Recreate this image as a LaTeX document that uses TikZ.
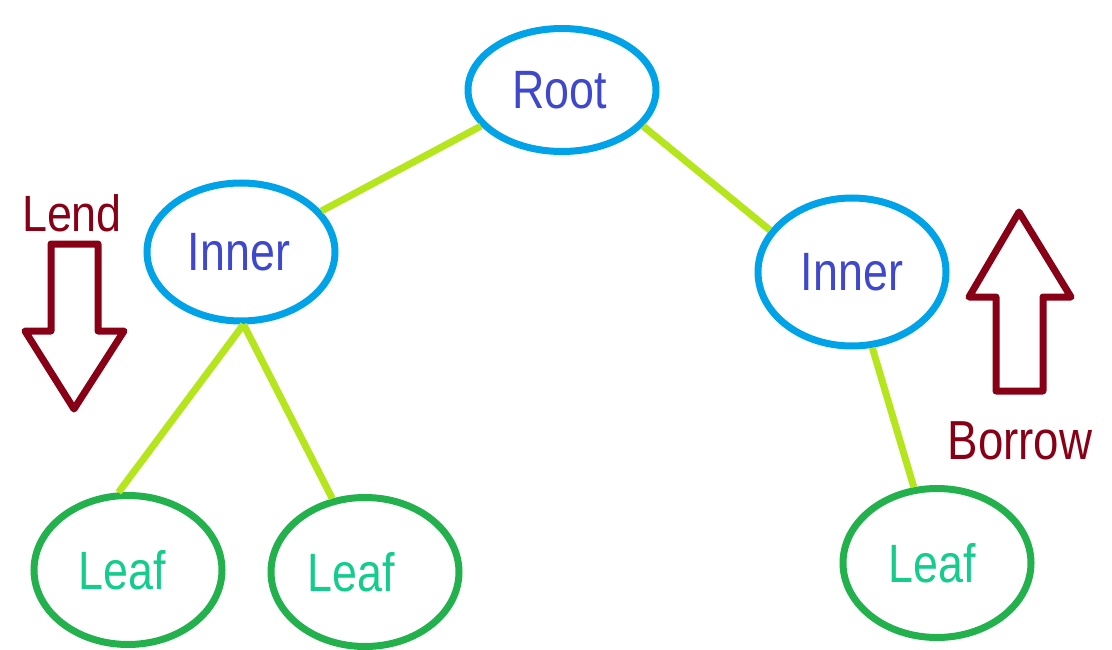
\documentclass[tikz,border=0pt]{standalone}
\usepackage{fontspec}
\setmainfont{Liberation Sans}
\usepackage{graphicx}
\usetikzlibrary{shapes.geometric}
\definecolor{ringblue}{HTML}{00A2E8}
\definecolor{ringgreen}{HTML}{22B14C}
\definecolor{edgelime}{HTML}{B5E61D}
\definecolor{labelindigo}{HTML}{3F48CC}
\definecolor{leafteal}{HTML}{14CC8C}
\definecolor{arrowred}{HTML}{880015}
% condensed lettering
\newcommand{\narrowtext}[1]{\scalebox{0.83}[1]{#1}}

\begin{document}
\begin{tikzpicture}[x=1pt,y=-1pt,
  treenode/.style={ellipse, line width=7pt, inner sep=0pt, minimum width=188pt,
                   font=\fontsize{54}{60}\selectfont},
  innernode/.style={treenode, draw=ringblue, text=labelindigo},
  leafnode/.style={treenode, draw=ringgreen, text=leafteal},
  branch/.style={draw=edgelime, line width=7pt},
  bigarrow/.style={draw=arrowred, line width=7pt, line join=round},
  sidelabel/.style={text=arrowred, inner sep=0pt}]
\useasboundingbox (0,0) rectangle (1112,650);

% tree nodes (trailing space nudges the lettering left of centre)
\node[innernode, minimum height=123pt] (root)   at (562,90)  {\narrowtext{Root}\hspace*{5pt}};
\node[innernode, minimum height=138pt] (innerL) at (241,252) {\narrowtext{Inner}\hspace*{4pt}};
\node[innernode, minimum height=148pt] (innerR) at (852,272) {\narrowtext{Inner}};
\node[leafnode,  minimum height=149pt] (leafA)  at (128,570) {\narrowtext{Leaf}\hspace*{12pt}};
\node[leafnode,  minimum height=149pt] (leafB)  at (365,572) {\narrowtext{Leaf}\hspace*{28pt}};
\node[leafnode,  minimum height=149pt] (leafC)  at (937,563) {\narrowtext{Leaf}\hspace*{10pt}};

% branches
\draw[branch] (root.204)  -- (innerL.27);
\draw[branch] (root.336)  -- (innerR.153);
\draw[branch] (innerL.272) -- (leafA.97);
\draw[branch] (innerL.272) -- (leafB.114);
\draw[branch] (innerR.285) -- (leafC.107);

% lend: hollow downward arrow
\node[sidelabel, font=\fontsize{51}{60}\selectfont] (lend) at (72,213) {\scalebox{0.88}[1]{Lend}};
\draw[bigarrow] (51,244) -- (98,244) -- (98,331) -- (124,331) -- (74,409)
                -- (25,331) -- (51,331) -- cycle;

% borrow: hollow upward arrow
\node[sidelabel, font=\fontsize{55}{60}\selectfont] (borrow) at (1020,441) {\narrowtext{Borrow}};
\draw[bigarrow] (1019,212) -- (1071,297) -- (1043,297) -- (1043,391) -- (996,391)
                -- (996,297) -- (969,297) -- cycle;
\end{tikzpicture}
\end{document}
